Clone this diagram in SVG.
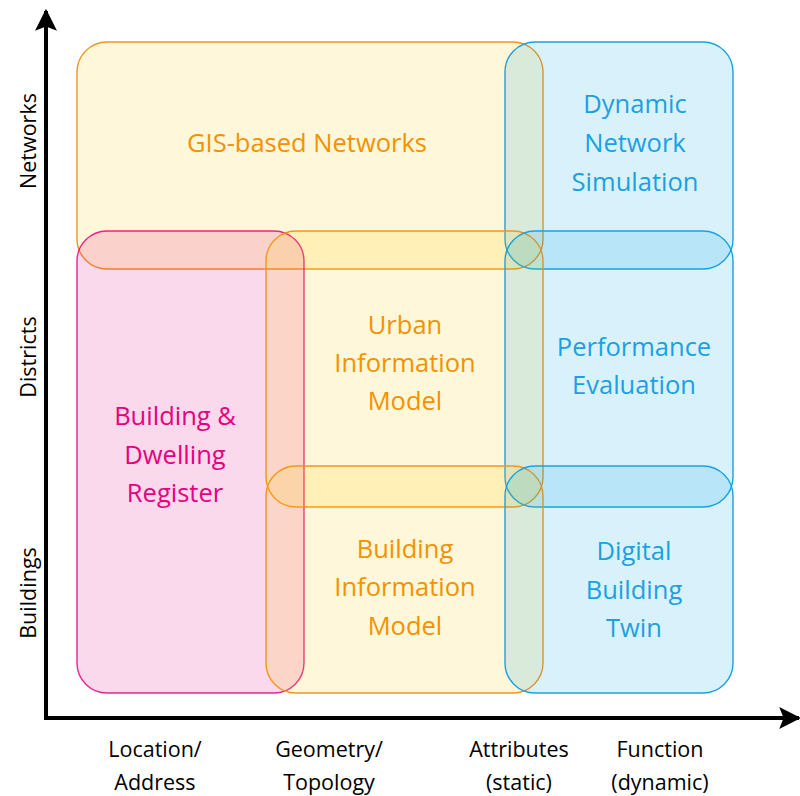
<svg xmlns="http://www.w3.org/2000/svg" width="800" height="796" viewBox="0 0 800 796">
<defs>
<style>
.yel{fill:#ffcc00;fill-opacity:0.15;stroke:#f7941d;stroke-width:1.4}
.pnk{fill:#e6007e;fill-opacity:0.15;stroke:#e6007e;stroke-opacity:0.85;stroke-width:1.4}
.blu{fill:#009fe3;fill-opacity:0.15;stroke:#1ba1e2;stroke-width:1.4}
text{font-family:"Open Sans","Noto Sans",sans-serif;text-anchor:middle}
.lbl{font-size:25.5px}
.ty{fill:#f39200}
.tp{fill:#e6007e}
.tb{fill:#1ba1e2}
.ax{font-size:21.5px;fill:#000}
.axl{stroke:#000;stroke-width:4;fill:none}
</style>
<marker id="ah" viewBox="0 0 10 10" refX="9" refY="5" markerWidth="5.5" markerHeight="5.5" markerUnits="strokeWidth" orient="auto">
<path d="M0,0 L10,5 L0,10 L2,5 z" fill="#000"/>
</marker>
</defs>
<g id="gis"><rect class="yel" x="77" y="42" width="466" height="227" rx="30"/></g>
<g id="dyn"><rect class="blu" x="505" y="42" width="228" height="227" rx="30"/></g>
<g id="bdr"><rect class="pnk" x="77" y="231" width="227" height="462" rx="30"/></g>
<g id="uim"><rect class="yel" x="266" y="231" width="277" height="276" rx="30"/></g>
<g id="perf"><rect class="blu" x="505" y="231" width="228" height="276" rx="30"/></g>
<g id="bim"><rect class="yel" x="266" y="466" width="277" height="227" rx="30"/></g>
<g id="dbt"><rect class="blu" x="505" y="466" width="228" height="227" rx="30"/></g>
<g id="labels">
<text class="lbl ty" x="307" y="152">GIS-based Networks</text>
<text class="lbl tb" x="635" y="113">Dynamic</text>
<text class="lbl tb" x="635" y="152">Network</text>
<text class="lbl tb" x="635" y="191">Simulation</text>
<text class="lbl tp" x="175" y="425">Building &amp;</text>
<text class="lbl tp" x="175" y="464">Dwelling</text>
<text class="lbl tp" x="175" y="502">Register</text>
<text class="lbl ty" x="405" y="334">Urban</text>
<text class="lbl ty" x="405" y="372">Information</text>
<text class="lbl ty" x="405" y="410">Model</text>
<text class="lbl tb" x="634" y="356">Performance</text>
<text class="lbl tb" x="634" y="394">Evaluation</text>
<text class="lbl ty" x="405" y="558">Building</text>
<text class="lbl ty" x="405" y="596">Information</text>
<text class="lbl ty" x="405" y="635">Model</text>
<text class="lbl tb" x="634" y="560">Digital</text>
<text class="lbl tb" x="634" y="599">Building</text>
<text class="lbl tb" x="634" y="637">Twin</text>
</g>
<g id="axes">
<line class="axl" x1="46" y1="718" x2="46" y2="11" marker-end="url(#ah)"/>
<line class="axl" x1="44" y1="718" x2="799" y2="718" marker-end="url(#ah)"/>
</g>
<g id="axis-labels">
<text class="ax" transform="translate(36,141) rotate(-90)">Networks</text>
<text class="ax" transform="translate(36,357) rotate(-90)">Districts</text>
<text class="ax" transform="translate(36,593) rotate(-90)">Buildings</text>
<text class="ax" x="155" y="757">Location/</text>
<text class="ax" x="155" y="790">Address</text>
<text class="ax" x="329" y="757">Geometry/</text>
<text class="ax" x="329" y="790">Topology</text>
<text class="ax" x="519" y="757">Attributes</text>
<text class="ax" x="519" y="790">(static)</text>
<text class="ax" x="660" y="757">Function</text>
<text class="ax" x="660" y="790">(dynamic)</text>
</g>
</svg>
